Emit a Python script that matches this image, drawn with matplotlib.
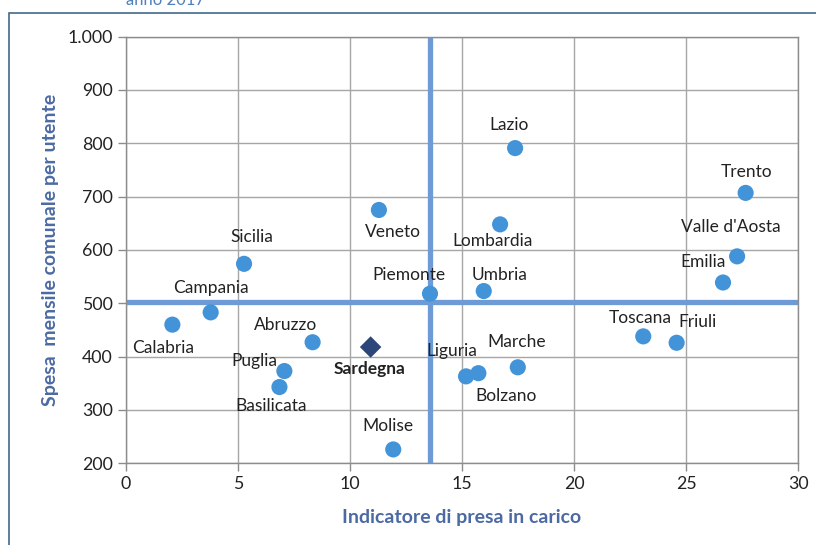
import matplotlib.pyplot as plt
from matplotlib.ticker import FuncFormatter, MultipleLocator
from matplotlib.patches import Rectangle

# regional values
regioni = ["Calabria", "Campania", "Sicilia", "Veneto", "Piemonte", "Abruzzo",
           "Puglia", "Basilicata", "Molise", "Liguria", "Bolzano", "Marche",
           "Lazio", "Lombardia", "Umbria", "Trento", "Valle d'Aosta", "Emilia",
           "Toscana", "Friuli"]
presa_in_carico = [2.07, 3.78, 5.27, 11.29, 13.57, 8.33, 7.07, 6.85, 11.93, 15.18,
                   15.73, 17.49, 17.37, 16.70, 15.97, 27.66, 27.28, 26.65, 23.09, 24.58]
spesa_mensile = [460, 483, 574, 675, 518, 427, 373, 343, 226, 363,
                 369, 380, 791, 648, 523, 707, 588, 539, 438, 426]

sardegna_x = 10.92
sardegna_y = 418

media_x = 13.57
media_y = 502

# label offsets (pixels) from each point
offsets = {
    "Calabria": (-9, -23), "Campania": (0, 24), "Sicilia": (8, 27),
    "Veneto": (14, -22), "Piemonte": (-21, 19), "Abruzzo": (-27, 17),
    "Puglia": (-30, 10), "Basilicata": (-8, -19), "Molise": (-5, 23),
    "Liguria": (-14, 25), "Bolzano": (28, -23), "Marche": (-1, 25),
    "Lazio": (-6, 23), "Lombardia": (-8, -17), "Umbria": (16, 16),
    "Trento": (1, 21), "Valle d'Aosta": (-6, 29), "Emilia": (-20, 20),
    "Toscana": (-3, 18), "Friuli": (21, 21),
}

plt.rcParams['font.family'] = ['Lato', 'DejaVu Sans']

fig = plt.figure(figsize=(8.16, 5.45), dpi=100)
ax = fig.add_axes([0.1544, 0.1499, 0.8236, 0.7829])

# outer frame (top and left visible) and title clipped at the top, as in the source
fig.patches.append(Rectangle((9 / 816, -0.1), 1.2, 1 - 13 / 545 + 0.1,
                             transform=fig.transFigure, fill=False,
                             edgecolor='#3f6b8c', linewidth=1.2))
fig.text(165 / 816, 1 - 5 / 545, "anno 2017", ha='center', va='baseline',
         color='#4f81bd', fontsize=12)

ax.set_xlim(0, 30)
ax.set_ylim(200, 1000)
ax.xaxis.set_major_locator(MultipleLocator(5))
ax.yaxis.set_major_locator(MultipleLocator(100))
ax.yaxis.set_major_formatter(FuncFormatter(lambda v, p: f"{int(v):,}".replace(",", ".")))
ax.grid(True, color='#a6a6a6', linewidth=1)
ax.set_axisbelow(True)
for s in ax.spines.values():
    s.set_color('#8c8c8c')
    s.set_linewidth(1)
ax.tick_params(colors='#8c8c8c', labelcolor='#222222', labelsize=12.8, length=6, width=1)

ax.axvline(media_x, color='#6e9bd6', linewidth=3.8, zorder=2)
ax.axhline(media_y, color='#6e9bd6', linewidth=3.8, zorder=2)

ax.scatter(presa_in_carico, spesa_mensile, s=135, color='#4393d8', zorder=3,
           edgecolors='none')
ax.scatter([sardegna_x], [sardegna_y], s=120, marker='D', color='#2d4679', zorder=3,
           edgecolors='none')

for nome, x, y in zip(regioni, presa_in_carico, spesa_mensile):
    ax.annotate(nome, (x, y), xytext=offsets[nome], textcoords='offset pixels',
                ha='center', va='center', fontsize=12.5, color='#222222', zorder=4)
ax.annotate("Sardegna", (sardegna_x, sardegna_y), xytext=(-1, -22),
            textcoords='offset pixels', ha='center', va='center', fontsize=12.5,
            fontweight='bold', color='#222222', zorder=4)

ax.set_xlabel("Indicatore di presa in carico", fontsize=14, fontweight='bold',
              color='#4b6aa3', labelpad=12)
ax.set_ylabel("Spesa  mensile comunale per utente", fontsize=14, fontweight='bold',
              color='#4b6aa3', labelpad=6)

fig.savefig("out.png", dpi=100)
